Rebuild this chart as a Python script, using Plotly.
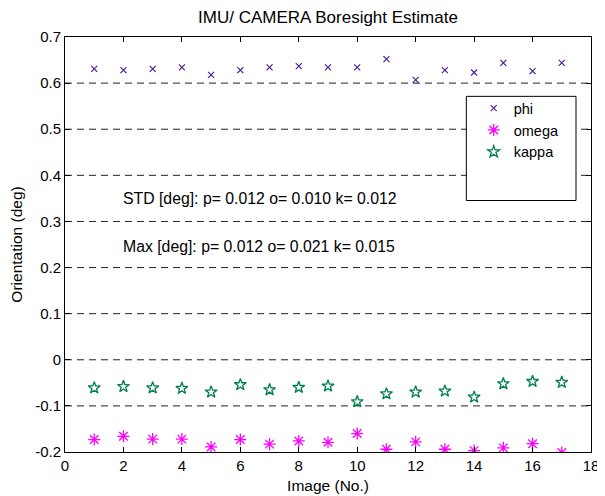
import plotly.graph_objects as go

images = list(range(1, 18))
phi = [0.631, 0.628, 0.631, 0.634, 0.618, 0.628, 0.634, 0.637, 0.634, 0.634,
       0.652, 0.607, 0.628, 0.623, 0.644, 0.626, 0.644]
omega = [-0.173, -0.166, -0.172, -0.172, -0.189, -0.173, -0.183, -0.176, -0.179,
         -0.160, -0.194, -0.178, -0.194, -0.197, -0.191, -0.182, -0.201]
kappa = [-0.061, -0.058, -0.061, -0.062, -0.070, -0.054, -0.065, -0.060, -0.057,
         -0.091, -0.074, -0.070, -0.068, -0.081, -0.052, -0.047, -0.049]

series_names = ["phi", "omega", "kappa"]
title_text = "IMU/ CAMERA Boresight Estimate"
x_title = "Image (No.)"
y_title = "Orientation (deg)"
x_ticks = [0, 2, 4, 6, 8, 10, 12, 14, 16, 18]
y_ticks = [-0.2, -0.1, 0, 0.1, 0.2, 0.3, 0.4, 0.5, 0.6, 0.7]
y_tick_labels = ["-0.2", "-0.1", "0", "0.1", "0.2", "0.3", "0.4", "0.5", "0.6", "0.7"]
stat_texts = ["STD [deg]: p= 0.012 o= 0.010 k= 0.012",
              "Max [deg]: p= 0.012 o= 0.021 k= 0.015"]
stat_x = [1.9, 1.9]
stat_y = [0.35, 0.245]

FONT = "Liberation Sans, Arial, sans-serif"

fig = go.Figure()
fig.add_trace(go.Scatter(x=images, y=phi, mode="markers", name=series_names[0],
                         marker=dict(symbol="x-thin-open", size=6, color="#4B1E9E",
                                     line=dict(width=1.2, color="#4B1E9E"))))
fig.add_trace(go.Scatter(x=images, y=omega, mode="markers", name=series_names[1],
                         marker=dict(symbol="asterisk-open", size=10, color="#FF00FF",
                                     line=dict(width=1.3, color="#FF00FF"))))
fig.add_trace(go.Scatter(x=images, y=kappa, mode="markers", name=series_names[2],
                         marker=dict(symbol="star-open", size=9, color="#00804A",
                                     line=dict(width=1.3, color="#00804A"))))

# horizontal dashed grid lines
for yv in y_ticks[1:-1]:
    fig.add_shape(type="line", xref="paper", x0=0, x1=1, yref="y", y0=yv, y1=yv,
                  line=dict(color="#222222", width=1, dash="7px,5px"), layer="below")

for t, xv, yv in zip(stat_texts, stat_x, stat_y):
    fig.add_annotation(x=xv, y=yv, text=t, showarrow=False, xanchor="left",
                       yanchor="middle", font=dict(family=FONT, size=15.8, color="black"))

# legend box
fig.add_shape(type="rect", xref="paper", yref="paper", x0=0.763, x1=0.9715,
              y0=0.606, y1=0.857, line=dict(color="black", width=1),
              fillcolor="white", layer="below")

# page has an 8px body margin: figure is offset by 8px right and down
fig.update_layout(
    width=597, height=488,
    margin=dict(l=57, r=14, t=29, b=44, autoexpand=False),
    paper_bgcolor="white", plot_bgcolor="white",
    font=dict(family=FONT, size=15, color="black"),
    title=dict(text=title_text, x=(57 + 583) / 2 / 597, xanchor="center",
               y=1 - 9 / 488, yanchor="middle",
               font=dict(family=FONT, size=17, color="black")),
    showlegend=True,
    legend=dict(x=0.777, y=0.867, xanchor="left", yanchor="top",
                bgcolor="rgba(0,0,0,0)", borderwidth=0,
                font=dict(family=FONT, size=14.5), tracegroupgap=0),
    xaxis=dict(range=[0, 18], tickvals=x_ticks, showgrid=False, zeroline=False,
               showline=True, linecolor="black", linewidth=1, mirror="ticks",
               ticks="inside", ticklen=5, tickcolor="black", automargin=False,
               title=dict(text=x_title, standoff=7, font=dict(size=15.5))),
    yaxis=dict(range=[-0.2, 0.7], tickvals=y_ticks, ticktext=y_tick_labels,
               showgrid=False, zeroline=False,
               showline=True, linecolor="black", linewidth=1, mirror="ticks",
               ticks="inside", ticklen=5, tickcolor="black", automargin=False,
               title=dict(text=y_title, standoff=9, font=dict(size=15.5))),
)

fig.write_html("out.html")
